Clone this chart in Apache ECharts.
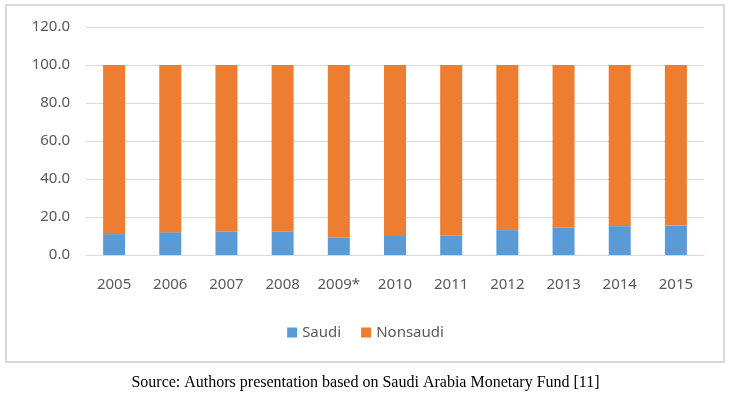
<!DOCTYPE html>
<html>
<head>
<meta charset="utf-8">
<script src="https://cdn.jsdelivr.net/npm/echarts@6/dist/echarts.min.js"></script>
<style>
  html, body { margin: 0; padding: 0; background: #fff; }
  #chart { width: 731px; height: 397px; }
</style>
</head>
<body>
<div id="chart"></div>
<script>
const years = ['2005', '2006', '2007', '2008', '2009*', '2010', '2011', '2012', '2013', '2014', '2015'];
const saudi = [11.0, 12.0, 12.4, 12.4, 9.3, 10.0, 10.3, 13.1, 14.5, 15.2, 15.5];
const nonsaudi = [89.0, 88.0, 87.6, 87.6, 90.7, 90.0, 89.7, 86.9, 85.5, 84.8, 84.5];
const yTicks = { min: 0, max: 120, interval: 20 };
const caption = 'Source: Authors presentation based on Saudi Arabia Monetary Fund [11]';

const labelColor = '#595959';
const font = '"Noto Sans", "Open Sans", sans-serif';

const chart = echarts.init(document.getElementById('chart'));
chart.setOption({
  animation: false,
  textStyle: { fontFamily: font },
  grid: { left: 86, right: 27, top: 27, bottom: 142 },
  xAxis: {
    type: 'category',
    data: years,
    axisTick: { show: false },
    axisLine: { lineStyle: { color: '#D9D9D9', width: 1 } },
    axisLabel: { color: labelColor, fontSize: 15, margin: 22, fontFamily: font }
  },
  yAxis: {
    type: 'value',
    min: yTicks.min,
    max: yTicks.max,
    interval: yTicks.interval,
    axisLine: { show: false },
    axisTick: { show: false },
    splitLine: { lineStyle: { color: '#D9D9D9', width: 1 } },
    axisLabel: {
      color: labelColor, fontSize: 15, margin: 16, fontFamily: font,
      formatter: v => v.toFixed(1)
    }
  },
  legend: {
    bottom: 52,
    left: 'center',
    itemWidth: 10,
    itemHeight: 10,
    itemGap: 20,
    icon: 'rect',
    textStyle: { color: labelColor, fontSize: 15, fontFamily: font },
    data: ['Saudi', 'Nonsaudi']
  },
  series: [
    {
      name: 'Saudi',
      type: 'bar',
      stack: 'total',
      barWidth: 22,
      itemStyle: { color: '#5B9BD5' },
      data: saudi
    },
    {
      name: 'Nonsaudi',
      type: 'bar',
      stack: 'total',
      barWidth: 22,
      itemStyle: { color: '#ED7D31' },
      data: nonsaudi
    }
  ],
  graphic: [
    {
      type: 'rect',
      shape: { x: 6, y: 5, width: 718, height: 357 },
      style: { fill: 'none', stroke: '#D9D9D9', lineWidth: 2 },
      z: -1
    },
    {
      type: 'text',
      left: 'center',
      top: 375,
      style: {
        text: caption,
        fill: '#000',
        font: '16px "Liberation Serif", "Times New Roman", serif'
      }
    }
  ]
});
</script>
</body>
</html>
